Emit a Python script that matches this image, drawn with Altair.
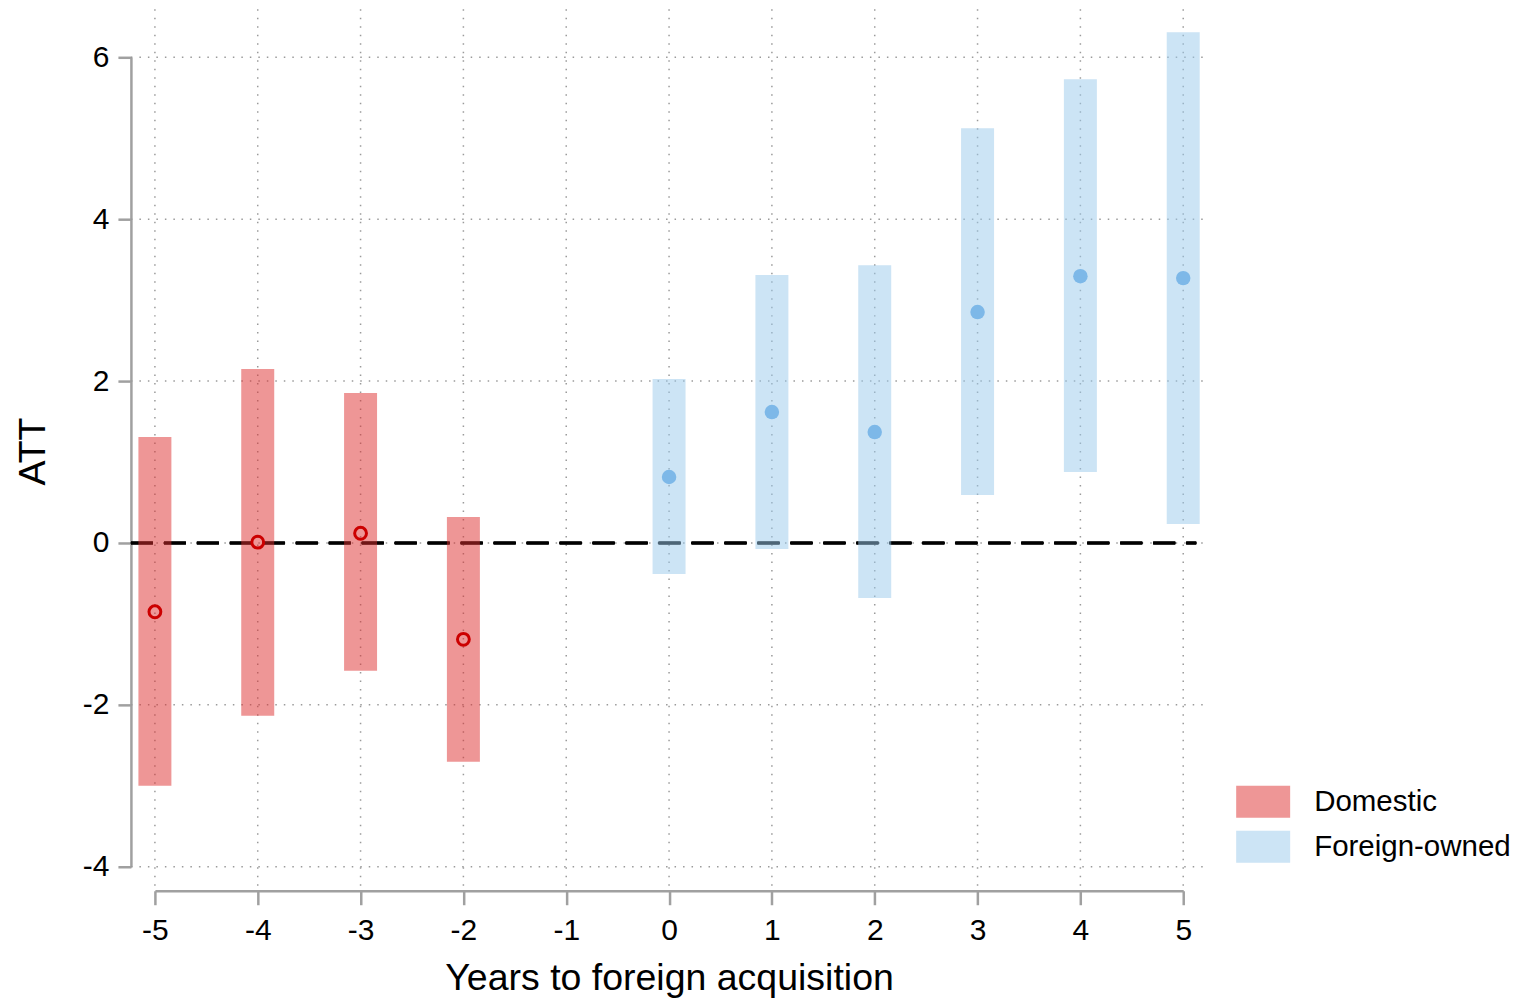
import altair as alt
import pandas as pd

years = [-5, -4, -3, -2, 0, 1, 2, 3, 4, 5]
groups = ["Domestic"] * 4 + ["Foreign-owned"] * 6
att = [-0.85, 0.01, 0.12, -1.19, 0.815, 1.617, 1.37, 2.852, 3.296, 3.272]
ci_lo = [-3.0, -2.136, -1.58, -2.704, -0.383, -0.074, -0.679, 0.593, 0.877, 0.235]
ci_hi = [1.309, 2.148, 1.852, 0.321, 2.025, 3.309, 3.432, 5.123, 5.728, 6.309]

x_ticks = [-5, -4, -3, -2, -1, 0, 1, 2, 3, 4, 5]
y_ticks = [-4, -2, 0, 2, 4, 6]

df = pd.DataFrame({"year": years, "group": groups, "att": att, "lo": ci_lo, "hi": ci_hi})
xg = pd.DataFrame({"t": x_ticks})
yg = pd.DataFrame({"t": y_ticks})

W, H = 1074, 877
FONT = "Liberation Sans"
AX = "#a0a0a0"

xscale = alt.Scale(domain=[-5, 5], range=[24, 1053], nice=False, zero=False, padding=0)
yscale = alt.Scale(domain=[-4, 6], range=[858, 48], nice=False, zero=False, padding=0)

xaxis = alt.Axis(values=x_ticks, grid=False, offset=5, tickSize=14, tickWidth=2.5,
                 tickColor=AX, domainColor=AX, domainWidth=2.5, labelFont=FONT,
                 labelFontSize=30, labelColor="black", labelPadding=11, labelFlush=False,
                 labelExpr="'' + datum.value", title="Years to foreign acquisition",
                 titleFont=FONT, titleFontSize=37.5, titleFontWeight="normal",
                 titleColor="black", titlePadding=14)
yaxis = alt.Axis(values=y_ticks, grid=False, offset=0, tickSize=13, tickWidth=2.5,
                 tickColor=AX, domainColor=AX, domainWidth=2.5, labelFont=FONT,
                 labelFontSize=30, labelColor="black", labelPadding=9, labelFlush=False,
                 labelExpr="'' + datum.value", title="ATT", titleFont=FONT,
                 titleFontSize=37.5, titleFontWeight="normal", titleColor="black",
                 titlePadding=30, titleY=442)

vgrid = alt.Chart(xg).mark_rule(color="#9a9a9a", strokeWidth=1.5, strokeDash=[1.5, 7]).encode(
    x=alt.X("t:Q", scale=xscale, axis=xaxis), y=alt.value(0), y2=alt.value(H))
hgrid = alt.Chart(yg).mark_rule(color="#9a9a9a", strokeWidth=1.5, strokeDash=[1.5, 7]).encode(
    y=alt.Y("t:Q", scale=yscale, axis=yaxis), x=alt.value(0), x2=alt.value(W))

zero = alt.Chart(yg).mark_rule(color="black", strokeWidth=2.5, strokeDash=[22, 11]).encode(
    y=alt.datum(0), x=alt.value(0), x2=alt.value(W - 8))

bars = alt.Chart(df).mark_bar(size=33, opacity=0.5).encode(
    x=alt.X("year:Q", scale=xscale, axis=xaxis),
    y=alt.Y("lo:Q", scale=yscale, axis=yaxis),
    y2="hi:Q",
    color=alt.Color("group:N",
                    scale=alt.Scale(domain=["Domestic", "Foreign-owned"],
                                    range=["#dd2d2d", "#99c9eb"]),
                    legend=alt.Legend(title=None, orient="none", legendX=1117, legendY=777,
                                      symbolType="M-1.6875,-1H1.6875V1H-1.6875Z",
                                      symbolSize=1024, symbolStrokeWidth=0,
                                      labelFont=FONT, labelFontSize=29.5, labelLimit=400,
                                      labelColor="black", labelOffset=35,
                                      rowPadding=13, padding=0)),
)

pts_dom = alt.Chart(df).transform_filter("datum.group == 'Domestic'").mark_point(
    filled=False, color="#cc0000", size=140, strokeWidth=3, opacity=1).encode(
    x=alt.X("year:Q", scale=xscale), y=alt.Y("att:Q", scale=yscale))
pts_for = alt.Chart(df).transform_filter("datum.group == 'Foreign-owned'").mark_circle(
    color="#7db8e8", size=210, opacity=1).encode(
    x=alt.X("year:Q", scale=xscale), y=alt.Y("att:Q", scale=yscale))

chart = alt.layer(vgrid, hgrid, zero, bars, pts_dom, pts_for).properties(
    width=W, height=H, background="white",
    padding={"left": 6, "top": 0, "right": 0, "bottom": 0}
).configure_view(strokeWidth=0)

chart.save("out.html", embed_options={"renderer": "svg", "actions": False})
